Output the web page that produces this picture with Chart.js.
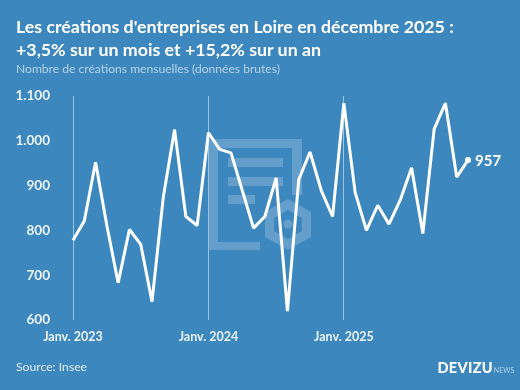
<!DOCTYPE html>
<html lang="fr">
<head>
<meta charset="utf-8">
<title>Créations d'entreprises en Loire</title>
<script src="https://cdn.jsdelivr.net/npm/chart.js@4"></script>
<style>
  html, body { margin: 0; padding: 0; }
  body { width: 520px; height: 390px; background: #3c87bd; overflow: hidden; position: relative; font-family: Lato, sans-serif; color: #fff; }
  #watermark, #box { position: absolute; left: 0; top: 0; width: 520px; height: 390px; }
  .txt { position: absolute; white-space: nowrap; }
  #title { left: 16px; top: 15px; font-size: 17.8px; font-weight: 700; line-height: 23px; }
  #sub { left: 16px; top: 61px; font-size: 12.1px; line-height: 16px; color: rgba(255,255,255,.62); }
  #source { left: 16px; top: 359px; font-size: 12.2px; line-height: 16px; color: rgba(255,255,255,.85); }
  #logo { left: 437.5px; top: 359px; font-size: 14.5px; line-height: 18px; font-weight: 900; letter-spacing: .3px; }
  #logo span { font-size: 7px; font-weight: 400; letter-spacing: 0; color: rgba(255,255,255,.6); margin-left: 1px; }
</style>
</head>
<body>
<svg id="watermark" viewBox="0 0 520 390">
  <g fill="#fff" fill-opacity=".2">
    <path d="M209 139H302V195H292V148H218V242H260V250H209Z"/>
    <rect x="228" y="158" width="55" height="9"/>
    <rect x="228" y="177" width="55" height="9"/>
    <rect x="228" y="195" width="27" height="9"/>
    <path fill-rule="evenodd" d="M288 199L311 212V237L288 250L265 237V212ZM288 210L274 218V231L288 239L302 231V218Z"/>
    <circle cx="288" cy="224" r="4.5"/>
  </g>
</svg>
<canvas id="box" width="520" height="390"></canvas>
<div class="txt" id="title">Les créations d'entreprises en Loire en décembre 2025 :<br>+3,5% sur un mois et +15,2% sur un an</div>
<div class="txt" id="sub">Nombre de créations mensuelles (données brutes)</div>
<div class="txt" id="source">Source: Insee</div>
<div class="txt" id="logo">DEVIZU<span>NEWS</span></div>
<script>
// Mois, de janv. 2023 a dec. 2025
const months = [
  'Janv. 2023','','','','','','','','','','','',
  'Janv. 2024','','','','','','','','','','','',
  'Janv. 2025','','','','','','','','','','',''
];
const creations = [
  778, 821, 952, 811, 683, 802, 769, 641, 874, 1025, 831, 811,
  1018, 981, 973, 889, 805, 831, 917, 620, 913, 975, 889, 831,
  1084, 885, 800, 856, 814, 868, 940, 793, 1026, 1084, 919, 957
];
const yTicks = [600, 700, 800, 900, 1000, 1100];

// Etiquette du dernier point
const lastLabel = {
  id: 'lastLabel',
  afterDatasetsDraw(chart) {
    const pts = chart.getDatasetMeta(0).data;
    const p = pts[pts.length - 1];
    const c = chart.ctx;
    c.save();
    c.font = '700 15px Lato';
    c.fillStyle = '#fff';
    c.textBaseline = 'middle';
    c.fillText(creations[creations.length - 1], p.x + 7, p.y + 1);
    c.restore();
  }
};

Chart.defaults.font.family = 'Lato';

new Chart(document.getElementById('box'), {
  type: 'line',
  data: {
    labels: months,
    datasets: [{
      data: creations,
      borderColor: '#fff',
      borderWidth: 3,
      tension: 0,
      borderJoinStyle: 'bevel',
      pointRadius: ctx => ctx.dataIndex === creations.length - 1 ? 3 : 0,
      pointBackgroundColor: '#fff',
      pointBorderWidth: 0
    }]
  },
  plugins: [lastLabel],
  options: {
    responsive: false,
    animation: false,
    layout: { padding: { top: 96, right: 52, bottom: 0, left: 0 } },
    plugins: { legend: { display: false }, tooltip: { enabled: false } },
    scales: {
      x: {
        offset: false,
        border: { display: false },
        afterFit(scale) { scale.height = 70; },
        grid: {
          drawTicks: false,
          lineWidth: 1,
          color: ctx => months[ctx.index] ? 'rgba(255,255,255,.5)' : 'rgba(0,0,0,0)'
        },
        ticks: {
          autoSkip: false,
          maxRotation: 0,
          padding: 9,
          color: 'rgba(255,255,255,.9)',
          font: { size: 12.5, weight: '700' },
          callback: (v, i) => months[i]
        }
      },
      y: {
        min: 600,
        max: 1100,
        border: { display: false },
        afterFit(scale) { scale.width = 73; },
        afterBuildTicks(scale) { scale.ticks = yTicks.map(v => ({ value: v })); },
        grid: { display: false },
        ticks: {
          padding: 15,
          color: 'rgba(255,255,255,.9)',
          font: { size: 13.5, weight: '700' },
          callback: v => v >= 1000 ? String(v).replace(/(\d)(\d{3})$/, '$1.$2') : v
        }
      }
    }
  }
});
</script>
</body>
</html>
